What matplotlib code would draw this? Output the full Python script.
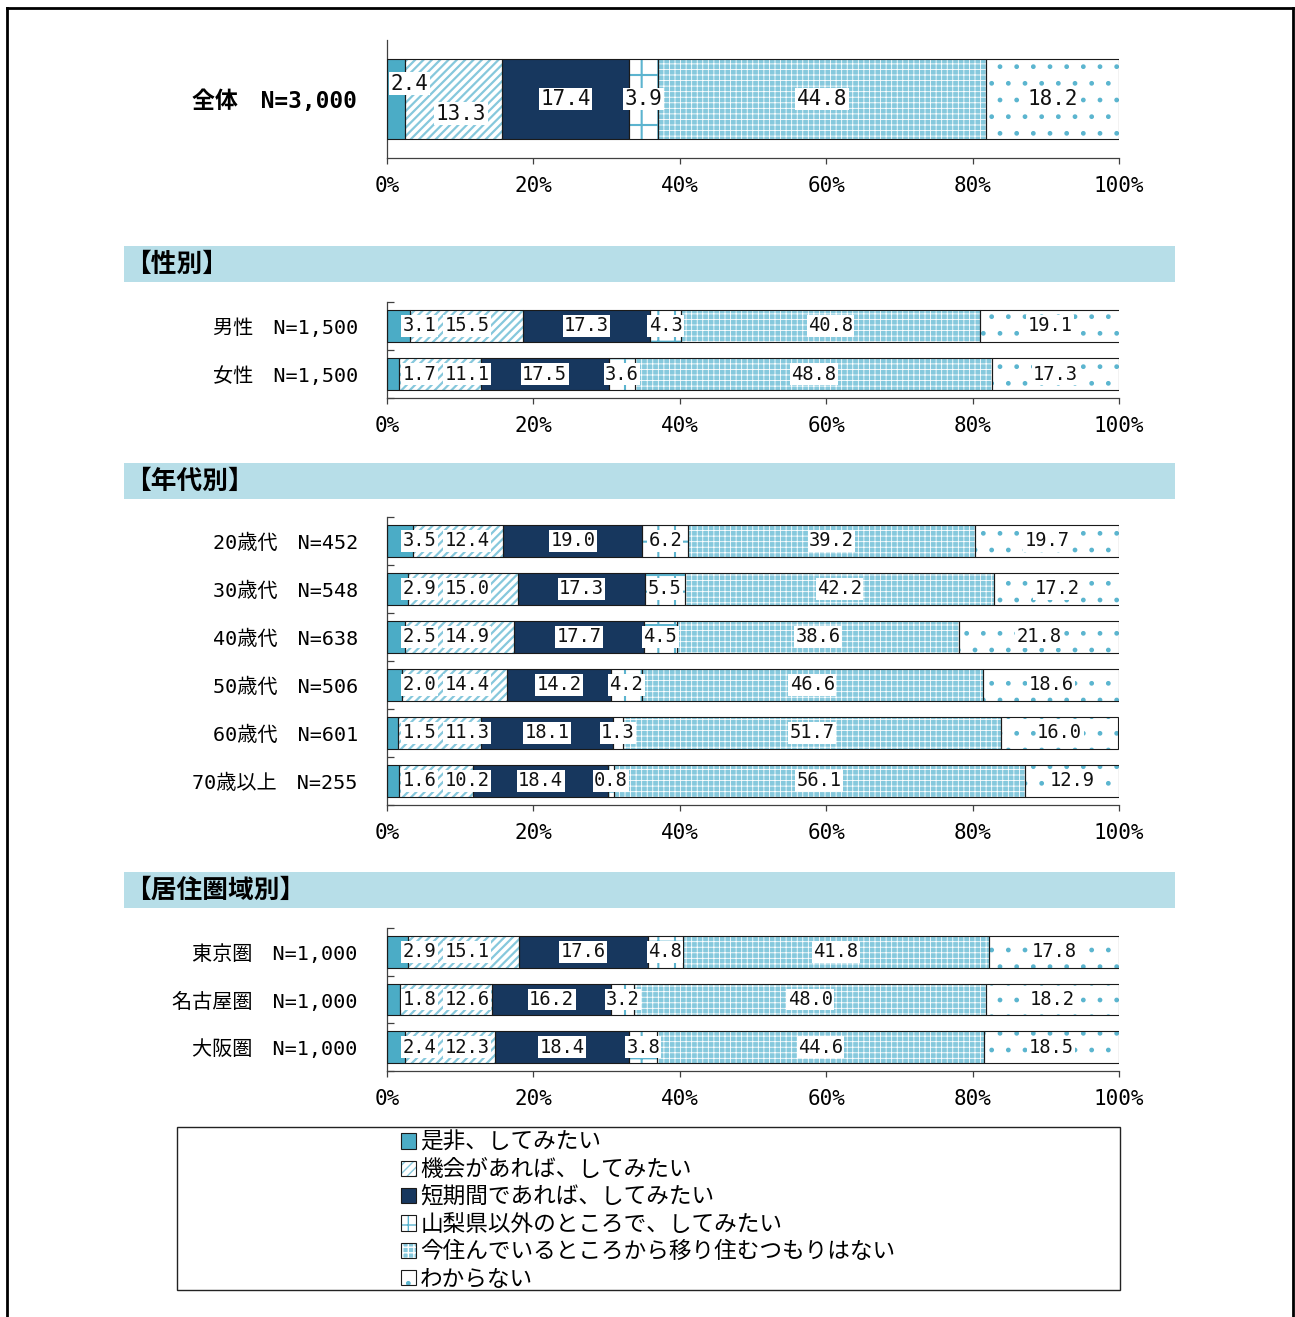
import matplotlib
matplotlib.use("Agg")
import matplotlib.pyplot as plt
from matplotlib.patches import Rectangle
from matplotlib.lines import Line2D
import numpy as np

# ---------------- data ----------------
series = ["是非、してみたい", "機会があれば、してみたい", "短期間であれば、してみたい",
          "山梨県以外のところで、してみたい", "今住んでいるところから移り住むつもりはない", "わからない"]

total_labels = ["全体　N=3,000"]
total_values = [[2.4, 13.3, 17.4, 3.9, 44.8, 18.2]]

gender_labels = ["男性　N=1,500", "女性　N=1,500"]
gender_values = [[3.1, 15.5, 17.3, 4.3, 40.8, 19.1],
                 [1.7, 11.1, 17.5, 3.6, 48.8, 17.3]]

age_labels = ["20歳代　N=452", "30歳代　N=548", "40歳代　N=638",
              "50歳代　N=506", "60歳代　N=601", "70歳以上　N=255"]
age_values = [[3.5, 12.4, 19.0, 6.2, 39.2, 19.7],
              [2.9, 15.0, 17.3, 5.5, 42.2, 17.2],
              [2.5, 14.9, 17.7, 4.5, 38.6, 21.8],
              [2.0, 14.4, 14.2, 4.2, 46.6, 18.6],
              [1.5, 11.3, 18.1, 1.3, 51.7, 16.0],
              [1.6, 10.2, 18.4, 0.8, 56.1, 12.9]]

region_labels = ["東京圏　N=1,000", "名古屋圏　N=1,000", "大阪圏　N=1,000"]
region_values = [[2.9, 15.1, 17.6, 4.8, 41.8, 17.8],
                 [1.8, 12.6, 16.2, 3.2, 48.0, 18.2],
                 [2.4, 12.3, 18.4, 3.8, 44.6, 18.5]]

section_titles = ["【性別】", "【年代別】", "【居住圏域別】"]
xticks = [0, 20, 40, 60, 80, 100]
xtick_labels = ["0%", "20%", "40%", "60%", "80%", "100%"]

# ---------------- styles ----------------
faces = ["#4bacc6", "white", "#17375e", "white", "#86c9dd", "white"]
hatch_cols = ["#4bacc6", "#86c8dc", "#17375e", "#5cb4cf", "white", "#5bb5cf"]
hatches = [None, "////", None, "+", "+++", "."]
hatch_lws = [1.0, 1.6, 1.0, 1.5, 0.6, 1.0]

MONO = ["DejaVu Sans Mono", "Noto Sans CJK JP"]
CJK = ["Noto Sans CJK JP", "DejaVu Sans"]

W, H = 1295, 1317
fig = plt.figure(figsize=(W / 100, H / 100), dpi=100)


def fx(px):
    return px / W


def fy(py):
    return 1 - py / H


AX_L, AX_R = 387, 1119


def make_ax(top, bottom):
    return fig.add_axes([fx(AX_L), fy(bottom), (AX_R - AX_L) / W, (bottom - top) / H])


def draw_panel(ax, labels, values, lab_fs, ylab_fs, ylab_bold, first_min,
               char_px, stagger=False, ylab_pad=21):
    n = len(labels)
    vals = np.array(values)
    ypos = np.arange(n)
    bar_h = 0.67
    lefts = np.zeros(n)
    handles = []
    for k in range(len(series)):
        with plt.rc_context({"hatch.linewidth": hatch_lws[k]}):
            b1 = ax.barh(ypos, vals[:, k], left=lefts, height=bar_h, color=faces[k],
                         edgecolor=hatch_cols[k], linewidth=0, hatch=hatches[k], zorder=2)
        b2 = ax.barh(ypos, vals[:, k], left=lefts, height=bar_h, fill=False,
                     edgecolor="#1a1a1a", linewidth=0.8, zorder=3)
        handles.append((b1.patches[0], b2.patches[0]))
        lefts = lefts + vals[:, k]

    # data labels with simple overlap avoidance
    px_per_pct = (AX_R - AX_L) / 100.0
    for i in range(n):
        left = 0.0
        prev_right = None
        for k in range(len(series)):
            v = vals[i, k]
            s = f"{v:.1f}"
            hw = len(s) * char_px / 2 / px_per_pct
            c = left + v / 2
            if prev_right is None:
                c = max(c, first_min + hw)
            else:
                c = max(c, prev_right + 1.3 + hw)
            prev_right = c + hw
            yy = ypos[i]
            if stagger and k == 0:
                yy = yy - 0.13
            elif stagger and k == 1:
                yy = yy + 0.125
            ax.text(c, yy, s, ha="center", va="center", fontsize=lab_fs,
                    family=MONO, color="#111111", zorder=5,
                    bbox=dict(facecolor="white", edgecolor="none", pad=1.0))
            left += v

    ax.set_xlim(0, 100)
    ax.set_ylim(n - 0.5, -0.5)
    ax.set_xticks(xticks)
    ax.set_xticklabels(xtick_labels, family=MONO, fontsize=15)
    ax.tick_params(axis="x", direction="out", length=4, width=0.9, color="#404040", pad=9)
    ax.set_yticks(ypos)
    ax.set_yticklabels(labels, family=MONO, fontsize=ylab_fs,
                       fontweight="bold" if ylab_bold else "normal")
    ax.tick_params(axis="y", which="major", length=0, pad=ylab_pad)
    if n > 1:
        ax.set_yticks(np.arange(n + 1) - 0.5, minor=True)
        ax.tick_params(axis="y", which="minor", direction="in", length=5,
                       width=0.9, color="#404040")
    for sp in ["top", "right"]:
        ax.spines[sp].set_visible(False)
    for sp in ["left", "bottom"]:
        ax.spines[sp].set_color("#404040")
        ax.spines[sp].set_linewidth(0.9)
    ax.set_facecolor("none")
    return handles


ax1 = make_ax(40, 158)
handles = draw_panel(ax1, total_labels, total_values, lab_fs=15, ylab_fs=16.5,
                     ylab_bold=True, first_min=0.6, char_px=12, stagger=True, ylab_pad=22)
ax2 = make_ax(302, 398)
draw_panel(ax2, gender_labels, gender_values, lab_fs=13.5, ylab_fs=14.5,
           ylab_bold=False, first_min=2.2, char_px=10.9)
ax3 = make_ax(517, 805)
draw_panel(ax3, age_labels, age_values, lab_fs=13.5, ylab_fs=14.5,
           ylab_bold=False, first_min=2.2, char_px=10.9)
ax4 = make_ax(928, 1071)
draw_panel(ax4, region_labels, region_values, lab_fs=13.5, ylab_fs=14.5,
           ylab_bold=False, first_min=2.2, char_px=10.9)

# section header bands
for title, (t, b) in zip(section_titles, [(246, 282), (463, 499), (872, 908)]):
    fig.patches.append(Rectangle((fx(124), fy(b)), (1175 - 124) / W, (b - t) / H,
                                 transform=fig.transFigure, facecolor="#b7dee8",
                                 edgecolor="none", zorder=0))
    fig.text(fx(125), fy((t + b) / 2), title, ha="left", va="center",
             fontsize=18.5, fontweight="bold", family=CJK)

# legend frame and legend
fig.patches.append(Rectangle((fx(177), fy(1290)), (1120 - 177) / W, (1290 - 1127) / H,
                             transform=fig.transFigure, facecolor="white",
                             edgecolor="#222222", linewidth=1.0, zorder=0))
fig.legend(handles, series, loc="upper left", bbox_to_anchor=(fx(401), fy(1131)),
           bbox_transform=fig.transFigure, frameon=False, borderaxespad=0, borderpad=0,
           handlelength=0.65, handleheight=0.65, handletextpad=0.2, labelspacing=0.19,
           prop={"family": CJK, "size": 16.3})

# outer border (open at the bottom)
for xs, ys in [([7, 7], [1317, 8]), ([7, 1293], [8, 8]), ([1293, 1293], [8, 1317])]:
    fig.lines.append(Line2D([fx(x) for x in xs], [fy(y) for y in ys],
                            transform=fig.transFigure, color="black", linewidth=2.0))

fig.savefig("out.png", dpi=100, facecolor="white")
